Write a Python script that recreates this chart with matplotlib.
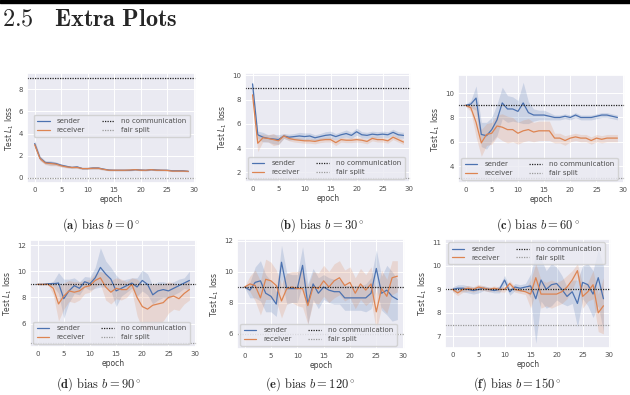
import numpy as np
import matplotlib
matplotlib.use("Agg")
import matplotlib.pyplot as plt
import seaborn as sns
from matplotlib.ticker import MultipleLocator

# ---- data ----
epochs = np.arange(30)
no_comm = 9.0
panel_tags = ["a", "b", "c", "d", "e", "f"]
biases = [0, 30, 60, 90, 120, 150]
fair_split = [0.0, 1.5, 3.0, 4.5, 6.0, 7.5]

a_sender = [3.1, 1.8, 1.4, 1.35, 1.3, 1.15, 1.05, 0.95, 1.0, 0.85, 0.85, 0.9, 0.9, 0.8, 0.72,
            0.7, 0.7, 0.7, 0.7, 0.75, 0.72, 0.7, 0.75, 0.72, 0.7, 0.7, 0.65, 0.65, 0.65, 0.6]
a_sender_sd = [0.3, 0.2, 0.15, 0.2, 0.15, 0.12, 0.1, 0.1, 0.1, 0.08, 0.08, 0.1, 0.1, 0.08, 0.06,
               0.06, 0.06, 0.06, 0.06, 0.06, 0.06, 0.06, 0.06, 0.06, 0.05, 0.05, 0.05, 0.05, 0.05, 0.05]
a_receiver = [3.0, 1.75, 1.35, 1.3, 1.25, 1.1, 1.0, 0.95, 0.95, 0.85, 0.85, 0.88, 0.88, 0.78, 0.7,
              0.7, 0.7, 0.7, 0.72, 0.75, 0.7, 0.7, 0.75, 0.7, 0.7, 0.68, 0.62, 0.62, 0.62, 0.6]
a_receiver_sd = [0.3, 0.2, 0.15, 0.2, 0.15, 0.12, 0.1, 0.1, 0.1, 0.08, 0.08, 0.1, 0.1, 0.08, 0.06,
                 0.06, 0.06, 0.06, 0.06, 0.06, 0.06, 0.06, 0.06, 0.06, 0.05, 0.05, 0.05, 0.05, 0.05, 0.05]

b_sender = [9.3, 5.1, 4.9, 4.8, 4.75, 4.7, 5.0, 4.9, 4.95, 5.0, 4.95, 5.0, 4.85, 4.95, 5.05,
            5.1, 4.95, 5.1, 5.2, 5.05, 5.35, 5.1, 5.05, 5.15, 5.1, 5.15, 5.1, 5.3, 5.1, 5.05]
b_sender_sd = [0.3, 0.3, 0.4, 0.3, 0.4, 0.4, 0.2, 0.25, 0.25, 0.3, 0.3, 0.25, 0.25, 0.25, 0.3,
               0.3, 0.25, 0.25, 0.3, 0.25, 0.3, 0.25, 0.25, 0.25, 0.25, 0.25, 0.25, 0.25, 0.25, 0.25]
b_receiver = [8.4, 4.4, 4.85, 4.8, 4.7, 4.6, 5.0, 4.8, 4.7, 4.65, 4.6, 4.6, 4.55, 4.65, 4.7,
              4.7, 4.45, 4.7, 4.65, 4.65, 4.7, 4.65, 4.55, 4.8, 4.7, 4.7, 4.6, 4.9, 4.7, 4.5]
b_receiver_sd = [0.5, 0.7, 0.3, 0.3, 0.5, 0.3, 0.2, 0.2, 0.2, 0.2, 0.2, 0.2, 0.2, 0.2, 0.2,
                 0.2, 0.25, 0.2, 0.2, 0.2, 0.2, 0.2, 0.2, 0.2, 0.2, 0.2, 0.2, 0.2, 0.2, 0.2]

c_sender = [9.0, 9.1, 9.6, 6.6, 6.5, 7.0, 7.8, 9.2, 8.7, 8.7, 8.5, 9.2, 8.4, 8.2, 8.2,
            8.2, 8.1, 8.0, 8.0, 8.1, 8.0, 8.2, 8.0, 8.0, 8.0, 8.1, 8.2, 8.2, 8.1, 8.0]
c_sender_sd = [0.1, 0.3, 1.0, 1.0, 1.1, 1.0, 1.3, 1.3, 1.1, 1.0, 0.9, 1.7, 0.9, 0.5, 0.4,
               0.4, 0.3, 0.2, 0.2, 0.2, 0.2, 0.2, 0.2, 0.2, 0.2, 0.2, 0.2, 0.2, 0.2, 0.2]
c_receiver = [9.0, 8.8, 7.6, 5.9, 6.6, 6.7, 7.3, 7.2, 7.0, 7.0, 6.7, 6.9, 7.0, 6.8, 6.9,
              6.9, 6.9, 6.3, 6.3, 6.1, 6.3, 6.4, 6.3, 6.3, 6.1, 6.3, 6.2, 6.3, 6.3, 6.3]
c_receiver_sd = [0.1, 0.3, 1.2, 1.1, 0.9, 0.9, 0.9, 1.1, 1.1, 1.0, 0.9, 0.9, 0.9, 0.8, 0.8,
                 0.8, 0.8, 0.4, 0.4, 0.4, 0.3, 0.3, 0.3, 0.3, 0.3, 0.3, 0.3, 0.3, 0.3, 0.3]

d_sender = [9.0, 9.0, 9.05, 9.05, 9.1, 7.9, 8.5, 8.9, 8.7, 9.2, 9.05, 9.5, 10.3, 9.8, 9.4,
            8.5, 8.7, 8.9, 9.1, 8.8, 9.3, 9.0, 8.2, 8.5, 8.6, 8.5, 8.7, 8.9, 9.1, 9.3]
d_sender_sd = [0.05, 0.05, 0.05, 0.2, 0.8, 1.5, 0.9, 0.6, 0.5, 0.4, 0.5, 0.8, 1.5, 1.0, 0.9,
               1.2, 0.6, 0.5, 0.4, 0.7, 0.8, 0.8, 0.7, 0.7, 0.6, 0.6, 0.5, 0.5, 0.4, 0.7]
d_receiver = [9.0, 9.0, 9.0, 8.7, 7.5, 8.1, 8.5, 8.4, 8.5, 8.8, 8.9, 9.3, 9.5, 8.8, 8.4,
              8.7, 8.6, 8.6, 9.0, 8.0, 7.3, 7.1, 7.4, 7.5, 7.6, 8.0, 8.1, 7.9, 8.3, 8.6]
d_receiver_sd = [0.05, 0.05, 0.05, 0.5, 1.3, 1.0, 0.8, 0.8, 0.7, 0.5, 0.5, 0.5, 0.5, 1.0, 0.9,
                 0.8, 0.8, 0.6, 0.5, 1.4, 1.7, 1.8, 1.6, 1.5, 1.4, 1.2, 1.0, 0.9, 0.8, 0.8]

e_sender = [9.0, 8.8, 9.3, 9.4, 8.6, 8.4, 7.9, 10.6, 8.9, 8.9, 8.9, 10.4, 7.9, 9.2, 8.6,
            9.0, 8.8, 8.7, 8.7, 8.3, 8.3, 8.3, 8.3, 8.3, 8.6, 10.2, 8.6, 8.8, 8.4, 8.2]
e_sender_sd = [0.05, 0.5, 1.0, 1.3, 1.2, 1.0, 0.8, 1.1, 1.0, 0.9, 0.9, 1.2, 1.3, 1.0, 1.0,
               0.8, 0.8, 0.8, 0.8, 0.8, 0.8, 0.8, 0.8, 0.9, 1.0, 1.2, 1.1, 1.6, 1.6, 1.3]
e_receiver = [9.0, 9.2, 9.1, 8.3, 9.5, 9.4, 9.1, 8.1, 8.9, 9.0, 8.9, 8.9, 7.8, 9.0, 8.9,
              9.4, 9.0, 9.4, 9.6, 9.1, 9.3, 8.6, 9.2, 8.8, 9.2, 7.4, 8.9, 8.4, 9.6, 9.7]
e_receiver_sd = [0.05, 0.5, 1.0, 1.1, 1.3, 1.2, 1.0, 1.1, 1.0, 1.0, 1.1, 1.2, 1.2, 1.0, 1.0,
                 1.0, 1.0, 1.1, 1.1, 1.0, 1.0, 1.0, 1.0, 1.0, 1.1, 1.2, 1.2, 1.1, 1.1, 1.0]

f_sender = [9.0, 9.05, 9.05, 9.0, 8.95, 9.0, 9.05, 9.0, 8.95, 9.0, 9.4, 8.9, 9.1, 9.05, 9.1,
            9.15, 8.6, 9.4, 9.0, 9.2, 9.25, 9.0, 8.7, 8.9, 8.4, 9.3, 9.2, 8.8, 9.5, 8.6]
f_sender_sd = [0.1, 0.15, 0.15, 0.15, 0.15, 0.15, 0.1, 0.1, 0.1, 0.15, 0.2, 0.15, 0.15, 0.15, 0.15,
               0.5, 1.9, 0.9, 0.8, 0.9, 0.7, 0.6, 0.4, 0.5, 1.0, 0.7, 0.9, 1.0, 1.2, 1.4]
f_receiver = [9.0, 8.85, 9.0, 9.05, 9.0, 9.1, 9.05, 9.0, 9.05, 9.0, 9.0, 9.25, 9.0, 8.95, 8.9,
              8.8, 9.5, 8.8, 8.8, 8.8, 8.8, 8.9, 9.1, 9.4, 9.8, 8.7, 8.9, 9.2, 8.0, 8.3]
f_receiver_sd = [0.1, 0.12, 0.12, 0.12, 0.12, 0.12, 0.1, 0.1, 0.1, 0.1, 0.12, 0.12, 0.12, 0.12, 0.12,
                 0.6, 0.6, 0.6, 0.5, 0.6, 0.5, 0.5, 0.5, 0.4, 0.3, 0.5, 0.4, 0.6, 0.8, 1.2]

y_limits = [(-0.45, 9.45), (1.2, 10.2), (2.6, 11.5), (4.2, 12.4), (5.0, 12.1), (6.5, 11.15)]
y_steps = [2, 2, 2, 2, 2, 1]
legend_locs = ["center left", "lower left", "lower left", "lower left", "lower left", "upper left"]
legend_anchor = [(0.02, 0.52), None, None, None, None, None]

series = [
    (a_sender, a_sender_sd, a_receiver, a_receiver_sd),
    (b_sender, b_sender_sd, b_receiver, b_receiver_sd),
    (c_sender, c_sender_sd, c_receiver, c_receiver_sd),
    (d_sender, d_sender_sd, d_receiver, d_receiver_sd),
    (e_sender, e_sender_sd, e_receiver, e_receiver_sd),
    (f_sender, f_sender_sd, f_receiver, f_receiver_sd),
]

# axes boxes in pixels: left, right, top, bottom
boxes = [(27, 196, 73, 183), (245, 411, 73, 182), (458, 625, 75, 183),
         (30, 197, 240, 347), (237, 405, 239, 349), (445, 611, 239, 348)]
caption_xy = [(101, 225), (322, 225), (538, 225), (99, 384), (310, 384), (517, 384)]

W, H = 630, 395

sns.set_theme(style="darkgrid")
plt.rcParams["font.family"] = ["DejaVu Sans"]

fig = plt.figure(figsize=(W / 100, H / 100), dpi=100)
fig.patch.set_facecolor("white")

# header rule and section title
fig.patches.append(plt.Rectangle((0, 1 - 2.7 / H), 1, 2.7 / H, transform=fig.transFigure,
                                 color="black", zorder=5))
fig.text(2 / W, 1 - 26 / H, r"$\mathbf{2.5\quad Extra\ Plots}$", fontsize=17.5,
         math_fontfamily="cm", va="baseline", ha="left")

blue = "#4C72B0"
orange = "#DD8452"

for i, (sm, ssd, rm, rsd) in enumerate(series):
    l, r, t, b = boxes[i]
    ax = fig.add_axes([l / W, 1 - b / H, (r - l) / W, (b - t) / H])
    sm, ssd, rm, rsd = map(np.array, (sm, ssd, rm, rsd))

    ax.fill_between(epochs, sm - ssd, sm + ssd, color=blue, alpha=0.2, lw=0)
    ax.fill_between(epochs, rm - rsd, rm + rsd, color=orange, alpha=0.2, lw=0)
    ax.plot(epochs, sm, color=blue, lw=0.9, label="sender")
    ax.plot(epochs, rm, color=orange, lw=0.9, label="receiver")
    ax.axhline(no_comm, color="#222222", ls=(0, (1, 1)), lw=0.9, label="no communication")
    ax.axhline(fair_split[i], color="#999999", ls=(0, (1, 1)), lw=0.9, label="fair split")

    ax.set_xlim(-1.45, 30.45)
    ax.set_ylim(*y_limits[i])
    ax.xaxis.set_major_locator(MultipleLocator(5))
    ax.yaxis.set_major_locator(MultipleLocator(y_steps[i]))
    ax.tick_params(labelsize=5, length=0, pad=3, colors="0.3")
    for gl in ax.get_xgridlines() + ax.get_ygridlines():
        gl.set_linewidth(0.7)
    ax.set_xlabel("epoch", fontsize=5.5, labelpad=1, color="0.25")
    ax.set_ylabel("Test $L_1$ loss", fontsize=5.5, labelpad=2, color="0.25")

    leg = ax.legend(ncol=2, fontsize=5, loc=legend_locs[i], bbox_to_anchor=legend_anchor[i],
                    handlelength=1.8, borderpad=0.5, handletextpad=1.0,
                    borderaxespad=0.5, columnspacing=2.4, labelspacing=0.4)
    for txt in leg.get_texts():
        txt.set_color("0.3")

    cx, cy = caption_xy[i]
    fig.text(cx / W, 1 - cy / H,
             r"$\mathbf{(%s)}\ \mathrm{bias}\ b = %d^\circ$" % (panel_tags[i], biases[i]),
             fontsize=9, math_fontfamily="cm", ha="center", va="center")

fig.savefig("out.png", dpi=100, facecolor="white")
